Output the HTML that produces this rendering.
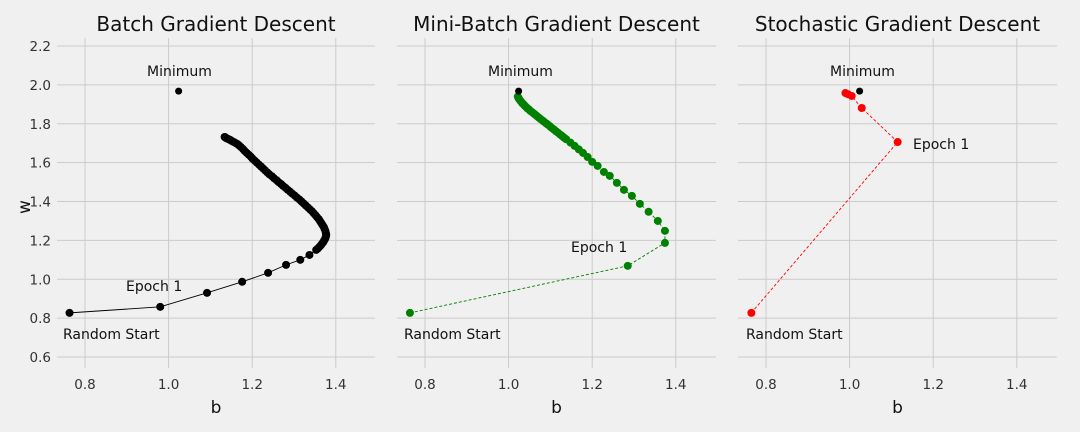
<!DOCTYPE html>
<html><head><meta charset="utf-8"><style>
body{margin:0;background:#f0f0f0;}
svg{display:block;font-family:"DejaVu Sans","Liberation Sans",sans-serif;}
</style></head><body>
<svg id="fig" width="1080" height="432" viewBox="0 0 1080 432"></svg>
<script>
const xTicks=[0.8,1.0,1.2,1.4];
const yTicks=[0.6,0.8,1.0,1.2,1.4,1.6,1.8,2.0,2.2];
const minimumPoint=[1.024,1.968];
const batchB=[0.763,0.980,1.092,1.176,1.238,1.281,1.315,1.337,1.353,1.357,1.360,1.363,1.366,1.369,1.371,1.373,1.375,1.376,1.377,1.377,1.376,1.375,1.373,1.371,1.368,1.365,1.362,1.359,1.355,1.351,1.347,1.343,1.338,1.333,1.328,1.323,1.318,1.313,1.307,1.302,1.296,1.291,1.285,1.280,1.274,1.269,1.263,1.258,1.252,1.247,1.241,1.236,1.231,1.226,1.221,1.216,1.211,1.206,1.201,1.197,1.192,1.187,1.182,1.178,1.173,1.169,1.165,1.161,1.157,1.153,1.150,1.147,1.144,1.141,1.139,1.137,1.136,1.135,1.134];
const batchW=[0.827,0.858,0.930,0.987,1.033,1.074,1.100,1.125,1.151,1.158,1.165,1.172,1.180,1.188,1.195,1.203,1.210,1.218,1.225,1.232,1.240,1.250,1.260,1.270,1.280,1.290,1.300,1.310,1.320,1.330,1.340,1.350,1.360,1.370,1.380,1.390,1.400,1.410,1.420,1.430,1.440,1.450,1.460,1.470,1.480,1.490,1.500,1.510,1.520,1.530,1.540,1.550,1.560,1.570,1.580,1.590,1.600,1.610,1.620,1.630,1.640,1.650,1.660,1.670,1.680,1.688,1.695,1.700,1.705,1.709,1.713,1.717,1.720,1.723,1.725,1.727,1.729,1.731,1.732];
const miniB=[0.764,1.285,1.374,1.374,1.357,1.335,1.314,1.295,1.276,1.259,1.242,1.228,1.213,1.200,1.189,1.178,1.168,1.158,1.148,1.138,1.133,1.128,1.123,1.118,1.113,1.108,1.103,1.099,1.094,1.090,1.085,1.081,1.076,1.072,1.068,1.064,1.060,1.056,1.052,1.049,1.045,1.042,1.039,1.036,1.033,1.031,1.029,1.027,1.025,1.024,1.023,1.022];
const miniW=[0.827,1.069,1.187,1.249,1.300,1.347,1.388,1.429,1.460,1.496,1.532,1.552,1.583,1.604,1.629,1.650,1.668,1.686,1.703,1.720,1.728,1.737,1.745,1.754,1.762,1.771,1.779,1.787,1.795,1.802,1.810,1.817,1.825,1.832,1.839,1.846,1.853,1.860,1.866,1.873,1.879,1.886,1.892,1.899,1.905,1.911,1.916,1.922,1.927,1.932,1.936,1.940];
const sgdB=[0.765,1.115,1.029,1.005,0.996,0.990];
const sgdW=[0.827,1.706,1.881,1.943,1.952,1.958];
const panels=[
 {title:"Batch Gradient Descent",x0:57,x1:375,b:batchB,w:batchW,color:"#000000",dash:"",name:"batch",r:4,
  epoch:[126,291],rs:[63,339],min:[147,76],yt:true},
 {title:"Mini-Batch Gradient Descent",x0:397,x1:716,b:miniB,w:miniW,color:"#008000",dash:"3,2",name:"mini-batch",r:4,
  epoch:[571,252],rs:[404,339],min:[488,76],yt:false},
 {title:"Stochastic Gradient Descent",x0:738,x1:1057,b:sgdB,w:sgdW,color:"#ff0000",dash:"3,2",name:"stochastic",r:4,
  epoch:[913,149],rs:[746,339],min:[830,76],yt:false}
];
const NS="http://www.w3.org/2000/svg";
const svg=document.getElementById('fig');
function mk(t,a,p){const e=document.createElementNS(NS,t);for(const k in a)e.setAttribute(k,a[k]);(p||svg).appendChild(e);return e;}
const yTop=38,yBot=368;
function yS(v){return 357-(v-0.6)/1.6*311;}
panels.forEach((P,i)=>{
  const off=[85,425,766][i];
  const xS=v=>off+(v-0.8)/0.2*83.6;
  const g=mk('g',{});
  
  
  xTicks.forEach(t=>{
    const l=mk('line',{x1:xS(t),x2:xS(t),y1:yTop,y2:yBot,stroke:'#cbcbcb','stroke-width':1},g);
    
    
    const tx=mk('text',{x:xS(t),y:389,'text-anchor':'middle','font-size':13.5,fill:'#333'},g);
    
    
    tx.textContent=t.toFixed(1);
  });
  yTicks.forEach(t=>{
    const l=mk('line',{x1:P.x0,x2:P.x1,y1:yS(t),y2:yS(t),stroke:'#cbcbcb','stroke-width':1},g);
    
    
    if(P.yt){
      const tx=mk('text',{x:51,y:yS(t)+5,'text-anchor':'end','font-size':13.5,fill:'#333'},g);
      
      
      tx.textContent=t.toFixed(1);
    }
  });
  const tt=mk('text',{x:(P.x0+P.x1)/2,y:31,'text-anchor':'middle','font-size':20,fill:'#111'},g);
  
  
  tt.textContent=P.title;
  const xl=mk('text',{x:(P.x0+P.x1)/2,y:413,'text-anchor':'middle','font-size':17,fill:'#111'},g);
  
  
  xl.textContent='b';
  if(P.yt){
    const yl=mk('text',{x:30,y:207,'text-anchor':'middle','font-size':17,fill:'#111',transform:'rotate(-90 30 207)'},g);
    
    
    yl.textContent='w';
  }
  const pts=P.b.map((v,k)=>xS(v)+','+yS(P.w[k])).join(' ');
  const pl=mk('polyline',{points:pts,fill:'none',stroke:P.color,'stroke-width':0.9,'stroke-dasharray':P.dash},g);
  
  
  P.b.forEach((v,k)=>{
    const c=mk('circle',{cx:xS(v),cy:yS(P.w[k]),r:P.r,fill:P.color},g);
    
    
  });
  const m=mk('circle',{cx:xS(minimumPoint[0]),cy:yS(minimumPoint[1]),r:3.5,fill:'#000'},g);
  
  
  [['Minimum',P.min,'minimum-label'],['Epoch 1',P.epoch,'epoch-1-label'],['Random Start',P.rs,'random-start-label']].forEach(a=>{
    const t=mk('text',{x:a[1][0],y:a[1][1],'font-size':14,fill:'#111'},g);
    
    
    t.textContent=a[0];
  });
});
</script>
</body></html>
